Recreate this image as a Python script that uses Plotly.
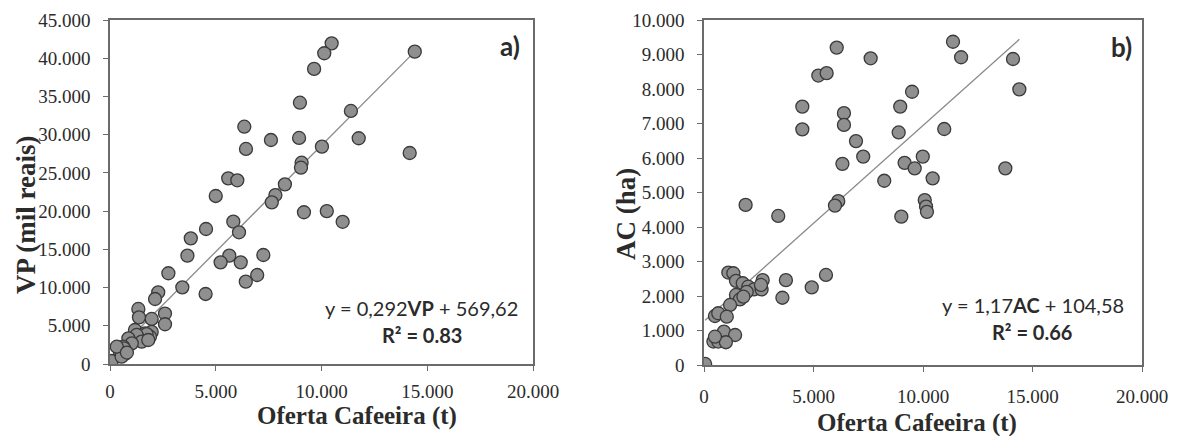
import plotly.graph_objects as go

# ---------------- data ----------------
vp_x = [10480, 10130, 9650, 14410, 8980, 11390, 8940, 11760, 10020, 14170, 9060, 9030,
        8270, 7820, 9170, 10250, 11000, 6350, 6430, 7610, 5590, 6020, 5000, 7650,
        4540, 3820, 3660, 2760, 5830, 6100, 5640, 5230, 6180, 7250, 6960, 6420, 4520,
        3420, 2280, 2130, 2600, 2600, 1970, 1340, 1370,
        1180, 1650, 1970, 1890, 1730, 1340, 1260, 1500, 1810, 870, 1030, 630, 660,
        470, 710, 470, 80, 550, 320, 800]
vp_y = [41950, 40650, 38600, 40860, 34180, 33100, 29570, 29530, 28430, 27600, 26330, 25680,
        23500, 22100, 19850, 20000, 18600, 31040, 28130, 29300, 24290, 24030, 21980, 21150,
        17660, 16440, 14170, 11870, 18620, 17230, 14170, 13300, 13300, 14260, 11640, 10770, 9160,
        10030, 9380, 8500, 6600, 5200, 5890, 7200, 6100,
        4450, 4000, 4200, 3570, 3920, 3360, 3800, 2920, 3140, 3360, 2700, 2260, 2050,
        1610, 1310, 1180, 390, 960, 2260, 1500]

ac_x = [6060, 7610, 5220, 5600, 4490, 4490, 6390, 6390, 6940, 7270, 6320, 8230, 6130, 5980,
        1900, 3390,
        11370, 11740, 14110, 14400, 9500, 8960, 8890, 10970, 9990, 9160, 9620, 10440, 13760,
        10080, 10140, 10180, 9010,
        1110, 1340, 1460, 1770, 2020, 2280, 2680, 2630, 2600, 3740, 3580, 4920, 5570, 1950,
        1460, 1640, 1800, 1190, 500, 650, 1040, 910, 1420, 430, 650, 1000, 500, 50]
ac_y = [9200, 8890, 8390, 8460, 7490, 6830, 7300, 6960, 6490, 6040, 5830, 5340, 4750, 4620,
        4640, 4320,
        9370, 8920, 8870, 7990, 7920, 7490, 6740, 6840, 6040, 5860, 5700, 5410, 5700,
        4780, 4590, 4440, 4300,
        2680, 2660, 2440, 2370, 2270, 2190, 2460, 2190, 2320, 2460, 1950, 2250, 2610, 2120,
        2030, 1900, 1980, 1740, 1420, 1500, 1400, 970, 870, 680, 680, 660, 820, 30]

# trend lines (endpoints)
vp_trend_x = [150, 14410]
vp_trend_y = [1200, 40860]
ac_trend_x = [50, 14400]
ac_trend_y = [1300, 9440]

x_ticks = [0, 5000, 10000, 15000, 20000]
x_tick_text = ["0", "5.000", "10.000", "15.000", "20.000"]
vp_ticks = [0, 5000, 10000, 15000, 20000, 25000, 30000, 35000, 40000, 45000]
vp_tick_text = ["0", "5.000", "10.000", "15.000", "20.000", "25.000", "30.000",
                "35.000", "40.000", "45.000"]
ac_ticks = [0, 1000, 2000, 3000, 4000, 5000, 6000, 7000, 8000, 9000, 10000]
ac_tick_text = ["0", "1.000", "2.000", "3.000", "4.000", "5.000", "6.000", "7.000",
                "8.000", "9.000", "10.000"]

x_title = "Oferta Cafeeira (t)"
vp_title = "VP (mil reais)"
ac_title = "AC (ha)"
vp_eq = "y = 0,292<b>VP</b> + 569,62"
vp_r2 = "<b>R² = 0.83</b>"
ac_eq = "y = 1,17<b>AC</b> + 104,58"
ac_r2 = "<b>R² = 0.66</b>"

# ---------------- styling ----------------
W, H = 1177, 436
SERIF = "Liberation Serif, Times New Roman, serif"
SANS = "Lato, Open Sans, sans-serif"
TXT = "#2b2b2b"
marker = dict(size=13, color="#8f8f8f", line=dict(color="#3a3a3a", width=1.3))
trend = dict(color="#8a8a8a", width=1.3)


def px(x):
    return x / W


def py(y):
    return 1 - y / H


fig = go.Figure()
fig.add_trace(go.Scatter(x=vp_trend_x, y=vp_trend_y, mode="lines", line=trend,
                         xaxis="x", yaxis="y", hoverinfo="skip"))
fig.add_trace(go.Scatter(x=vp_x, y=vp_y, mode="markers", marker=marker,
                         xaxis="x", yaxis="y"))
fig.add_trace(go.Scatter(x=ac_trend_x, y=ac_trend_y, mode="lines", line=trend,
                         xaxis="x2", yaxis="y2", hoverinfo="skip"))
fig.add_trace(go.Scatter(x=ac_x, y=ac_y, mode="markers", marker=marker,
                         xaxis="x2", yaxis="y2"))

axis_common = dict(showgrid=False, zeroline=False, showline=True, linecolor="#6b6b6b",
                   linewidth=1.5, mirror=True, ticks="outside", ticklen=5,
                   tickcolor="#6b6b6b", tickwidth=1.3, automargin=False,
                   tickfont=dict(family=SERIF, size=19, color=TXT))

fig.update_layout(
    width=W, height=H, showlegend=False,
    paper_bgcolor="white", plot_bgcolor="white",
    margin=dict(l=0, r=0, t=0, b=0, autoexpand=False),
    xaxis=dict(domain=[px(110), px(533)], range=[0, 20000], anchor="y",
               tickvals=x_ticks, ticktext=x_tick_text, ticklabelstandoff=4, **axis_common),
    yaxis=dict(domain=[py(364), py(20)], range=[0, 45000], anchor="x",
               tickvals=vp_ticks, ticktext=vp_tick_text, ticklabelstandoff=9, **axis_common),
    xaxis2=dict(domain=[px(704), px(1142)], range=[0, 20000], anchor="y2",
                tickvals=x_ticks, ticktext=x_tick_text, ticklabelstandoff=8, **axis_common),
    yaxis2=dict(domain=[py(365), py(20)], range=[0, 10000], anchor="x2",
                tickvals=ac_ticks, ticktext=ac_tick_text, ticklabelstandoff=9, **axis_common),
)

title_font = dict(family=SERIF, size=25, color=TXT, weight="bold")
ytitle_font = dict(family=SERIF, size=27, color=TXT, weight="bold")
eq_font = dict(family=SANS, size=20, color=TXT)
ann = [
    dict(text=f"<b>{x_title}</b>", x=px(357), y=py(416), font=title_font),
    dict(text=f"<b>{x_title}</b>", x=px(917), y=py(423), font=title_font),
    dict(text=f"<b>{vp_title}</b>", x=px(26), y=py(215), font=ytitle_font, textangle=-90),
    dict(text=f"<b>{ac_title}</b>", x=px(626), y=py(214), font=ytitle_font, textangle=-90),
    dict(text="<b>a)</b>", x=px(510), y=py(46), font=dict(family=SANS, size=26, color=TXT)),
    dict(text="<b>b)</b>", x=px(1121), y=py(47), font=dict(family=SANS, size=26, color=TXT)),
    dict(text=vp_eq, x=px(520), y=py(308), xanchor="right", font=eq_font),
    dict(text=vp_r2, x=px(422), y=py(335), font=eq_font),
    dict(text=ac_eq, x=px(1126), y=py(305), xanchor="right", font=eq_font),
    dict(text=ac_r2, x=px(1032), y=py(332), font=eq_font),
]
for a in ann:
    a.setdefault("xanchor", "center")
    a.update(xref="paper", yref="paper", yanchor="middle", showarrow=False)
    fig.add_annotation(**a)

fig.write_html("out.html", config={"displayModeBar": False})

# remove the browser's default page margin so the figure sits at (0, 0)
with open("out.html", encoding="utf-8") as f:
    html = f.read()
html = html.replace("<body>", '<body style="margin:0;padding:0;overflow:hidden">', 1)
with open("out.html", "w", encoding="utf-8") as f:
    f.write(html)
